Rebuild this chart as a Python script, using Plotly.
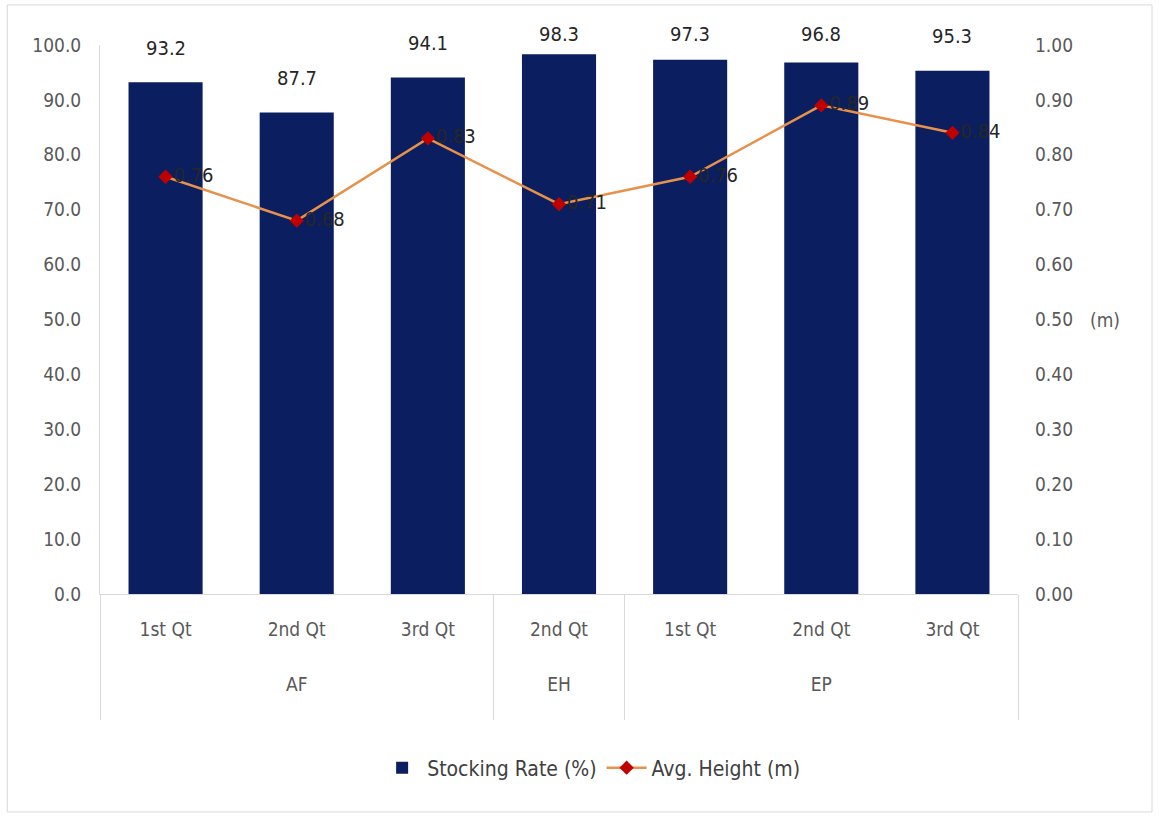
import plotly.graph_objects as go

groups = ["AF", "AF", "AF", "EH", "EP", "EP", "EP"]
quarters = ["1st Qt", "2nd Qt", "3rd Qt", "2nd Qt", "1st Qt", "2nd Qt", "3rd Qt"]
stocking_rate = [93.2, 87.7, 94.1, 98.3, 97.3, 96.8, 95.3]
avg_height = [0.76, 0.68, 0.83, 0.71, 0.76, 0.89, 0.84]

FONT = "DejaVu Sans Condensed, Liberation Sans Narrow, Roboto, sans-serif"
NAVY = "#0B1F60"
ORANGE = "#E8914A"
RED = "#C00000"
GREY = "#595959"
LINE = "#D9D9D9"

xcats = [[g + "<br> " for g in groups], [q + "<br> <br> " for q in quarters]]

fig = go.Figure()
fig.add_trace(go.Bar(
    x=xcats, y=stocking_rate, name="Stocking Rate (%)",
    marker=dict(color=NAVY, line=dict(width=0)), width=0.565,
))
fig.add_trace(go.Scatter(
    x=xcats, y=avg_height, name="Avg. Height (m)", yaxis="y2",
    mode="lines+markers+text",
    line=dict(color=ORANGE, width=2.5),
    marker=dict(symbol="diamond", size=11, color=RED),
    text=[f"{v:.2f}" for v in avg_height], textposition="middle right",
    textfont=dict(family=FONT, size=20, color="#262626"),
    cliponaxis=False,
))

# bar value labels (placed above bars, clamped near top like the original)
for i, v in enumerate(stocking_rate):
    fig.add_annotation(
        x=i, y=min(v + 6.3, 102.0) / 100.0, xref="x", yref="paper",
        text=f"{v:.1f}", showarrow=False, yanchor="middle",
        font=dict(family=FONT, size=20, color="#262626"),
    )

fig.add_annotation(
    x=1.095, y=0.5, xref="paper", yref="y2", text="(m)", showarrow=False,
    xanchor="center", yanchor="middle", font=dict(family=FONT, size=19, color=GREY),
)

# outer frame
fig.add_shape(type="rect", xref="paper", yref="paper",
              x0=-0.101, x1=1.146, y0=-0.397, y1=1.073,
              line=dict(color=LINE, width=1), layer="below")

fig.update_layout(
    width=1159, height=818,
    margin=dict(l=100, r=141, t=45, b=224),
    paper_bgcolor="white", plot_bgcolor="white",
    font=dict(family=FONT, size=19, color=GREY),
    bargap=0.435,
    showlegend=True,
    legend=dict(orientation="h", x=0.535, xanchor="center", y=-0.317, yanchor="middle",
                font=dict(family=FONT, size=21, color="#404040"), itemwidth=40),
    xaxis=dict(
        type="multicategory", showline=True, linecolor=LINE, linewidth=1,
        showdividers=True, dividercolor=LINE, dividerwidth=1,
        tickfont=dict(family=FONT, size=19, color=GREY), ticks="",
        ticklabelstandoff=18,
    ),
    yaxis=dict(
        range=[0, 100], dtick=10, tickformat=".1f", showgrid=False, zeroline=False,
        showline=True, linecolor=LINE, linewidth=1, ticks="", ticklabelstandoff=14,
        tickfont=dict(family=FONT, size=19, color=GREY),
    ),
    yaxis2=dict(
        range=[0, 1], dtick=0.1, tickformat=".2f", overlaying="y", side="right",
        showgrid=False, zeroline=False, showline=False, ticks="", ticklabelstandoff=16,
        tickfont=dict(family=FONT, size=19, color=GREY),
    ),
)

fig.write_html("out.html")
